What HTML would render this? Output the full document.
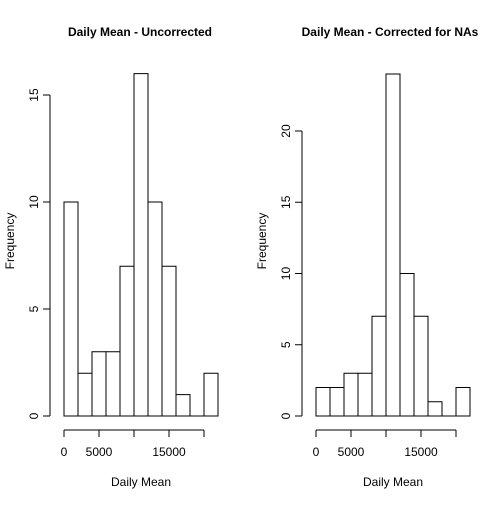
<!DOCTYPE html>
<html><head><meta charset="utf-8"><style>
body{margin:0;background:#fff}
svg text{font-family:"Liberation Sans",sans-serif;font-size:12px;fill:#000}
</style></head><body>
<svg id="c" width="504" height="504" xmlns="http://www.w3.org/2000/svg"></svg>
<script>
const binStarts=[0,2000,4000,6000,8000,10000,12000,14000,16000,18000,20000];
const binWidth=2000;
const countsUncorrected=[10,2,3,3,7,16,10,7,1,0,2];
const countsCorrected=[2,2,3,3,7,24,10,7,1,0,2];
const xTicks=[0,5000,10000,15000,20000];
const xTickLabels=["0","5000","","15000",""];
const yTicksLeft=[0,5,10,15];
const yTicksRight=[0,5,10,15,20];
const svg=document.getElementById('c');
const NS="http://www.w3.org/2000/svg";
function el(t,a,txt){const e=document.createElementNS(NS,t);for(const k in a)e.setAttribute(k,a[k]);if(txt!=null)e.textContent=txt;svg.appendChild(e);return e;}
function panel(x0,yTop,yMax,counts,yTicks,title,pfx,titleX){
  const xs=v=>x0+v*0.007;
  const y0=416;
  const ys=v=>y0-v*(yTop/yMax);
  let t=el('text',{x:titleX,y:36,'text-anchor':'middle','font-weight':'bold','font-size':'14.5'},title);
  
  
  counts.forEach((c,i)=>{
    const a=xs(binStarts[i]),b=xs(binStarts[i]+binWidth),top=ys(c);
    const r=el('path',{d:`M${a} ${y0}L${a} ${top}L${b} ${top}L${b} ${y0}Z`,fill:'none',stroke:'#000','stroke-width':1});
    
    
  });
  const ax=x0-14;
  let l=el('line',{x1:ax,x2:ax,y1:ys(yTicks[0]),y2:ys(yTicks[yTicks.length-1]),stroke:'#000'});
  
  
  yTicks.forEach(v=>{
    el('line',{x1:ax,x2:ax-7,y1:ys(v),y2:ys(v),stroke:'#000'});
    const tt=el('text',{x:ax-12,y:ys(v),'text-anchor':'middle',transform:`rotate(-90 ${ax-12} ${ys(v)})`},String(v));
    
    
  });
  const ay=430;
  let xl=el('line',{x1:xs(xTicks[0]),x2:xs(xTicks[xTicks.length-1]),y1:ay,y2:ay,stroke:'#000'});
  
  
  xTicks.forEach((v,i)=>{
    el('line',{x1:xs(v),x2:xs(v),y1:ay,y2:ay+7,stroke:'#000'});
    const tt=el('text',{x:xs(v),y:456,'text-anchor':'middle'},xTickLabels[i]);
    
    
  });
  t=el('text',{x:xs(11000),y:486,'text-anchor':'middle'},'Daily Mean');
  
  
  const fx=x0-50;
  t=el('text',{x:fx,y:241,'text-anchor':'middle',transform:`rotate(-90 ${fx} 241)`},'Frequency');
  
  
}
panel(64,321,15,countsUncorrected,yTicksLeft,'Daily Mean - Uncorrected','left',140);
panel(316,285,20,countsCorrected,yTicksRight,'Daily Mean - Corrected for NAs','right',390);
</script>
</body></html>
